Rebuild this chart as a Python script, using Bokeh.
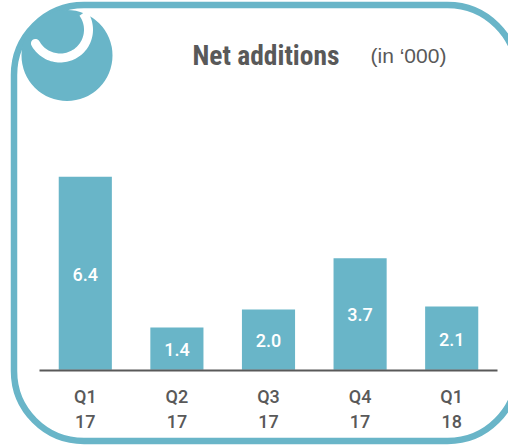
import numpy as np
from bokeh.embed import file_html
from bokeh.resources import INLINE
from bokeh.plotting import figure
from bokeh.models import BoxAnnotation, Label, ColumnDataSource, FactorRange, Range1d
from bokeh.core.properties import value

quarters = ["Q1\n17", "Q2\n17", "Q3\n17", "Q4\n17", "Q1\n18"]
net_additions = [6.4, 1.4, 2.0, 3.7, 2.1]
value_labels = ["6.4", "1.4", "2.0", "3.7", "2.1"]
title_text = "Net additions"
unit_text = "(in \u2018000)"

TEAL = "#69B5C8"
GREY = "#595959"
LABEL_FONT = "Roboto Medium, Roboto"
pin = {"position": "absolute", "left": "0px", "top": "0px"}

# Decoration layer: its frame fills the whole page, in page pixels
bg = figure(width=508, height=446, output_backend="svg", toolbar_location=None,
            x_range=Range1d(0, 508), y_range=Range1d(446, 0),
            x_axis_location=None, y_axis_location=None,
            min_border=0, outline_line_color=None,
            background_fill_color="white", border_fill_color="white")
bg.styles = pin
bg.grid.visible = False

bg.add_layout(BoxAnnotation(left=13.5, right=517, top=4.5, bottom=440.5,
                            border_radius=70, fill_alpha=0, line_color=TEAL, line_alpha=1, line_width=6.5))
bg.add_layout(BoxAnnotation(left=21, right=112, top=9.5, bottom=100.5,
                            border_radius=46, fill_color=TEAL, fill_alpha=1, line_alpha=0))
cx, cy, r, w = 59.7, 29.2, 28.3, 4.5
a = np.radians(np.linspace(151, -36, 60))
capA = np.radians(np.linspace(151, 331, 12))
capX = cx + r * np.cos(a[0]) + w * np.cos(capA)
capY = cy + r * np.sin(a[0]) + w * np.sin(capA)
hx = np.concatenate([cx + (r + w) * np.cos(a), (cx + (r - w) * np.cos(a))[::-1], capX])
hy = np.concatenate([cy + (r + w) * np.sin(a), (cy + (r - w) * np.sin(a))[::-1], capY])
bg.patch(hx, hy, fill_color="white", line_color=None, level="overlay")

bg.add_layout(Label(x=192, y=55, text=title_text, text_color=GREY,
                    text_font="Roboto Condensed", text_font_size="27.5px", text_font_style="bold",
                    text_baseline="middle"))
bg.add_layout(Label(x=370, y=55, text=unit_text, text_color=GREY,
                    text_font="Liberation Sans", text_font_size="21px", text_baseline="middle"))

# Chart layer
p = figure(width=508, height=446, output_backend="svg", toolbar_location=None,
           x_range=FactorRange(factors=quarters, range_padding=0, factor_padding=0),
           y_range=Range1d(-0.025, 12.25), y_axis_location=None,
           min_border_left=39, min_border_right=11, min_border_top=0, min_border_bottom=76,
           outline_line_color=None, background_fill_color=None, border_fill_color=None)
p.styles = pin
p.grid.visible = False

ax = p.xaxis[0]
ax.axis_line_color = GREY
ax.axis_line_width = 2
ax.major_tick_line_color = None
ax.minor_tick_line_color = None
ax.major_label_text_color = GREY
ax.major_label_text_font = LABEL_FONT
ax.major_label_text_font_size = "18px"
ax.major_label_text_font_style = "normal"
ax.major_label_standoff = 9
ax.major_label_orientation = "horizontal"

src = ColumnDataSource(dict(q=quarters, v=net_additions, mid=[x / 2 for x in net_additions], lab=value_labels))
p.vbar(x="q", top="v", bottom=0, width=0.58, source=src, fill_color=TEAL, line_color=None)
p.text(x="q", y="mid", text="lab", source=src, text_color="white", text_align="center",
       text_baseline="middle", text_font=value(LABEL_FONT), text_font_size="18px", y_offset=1)

open("out.html", "w").write(file_html([bg, p], INLINE))
